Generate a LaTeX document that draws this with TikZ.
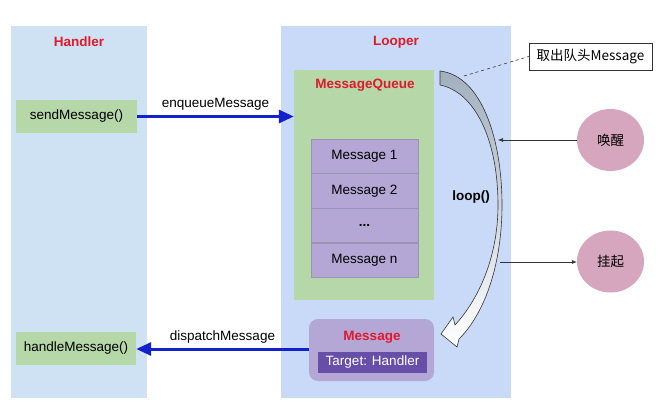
\documentclass[tikz,border=0pt]{standalone}
\usepackage{fontspec}
\setmainfont{Liberation Sans}
\newfontfamily\cjkfont{Noto Sans CJK SC}
\usetikzlibrary{arrows.meta,positioning,shapes.geometric}
\definecolor{handlerblue}{HTML}{CFE2F3}
\definecolor{looperblue}{HTML}{C9DAF8}
\definecolor{queuegreen}{HTML}{B6D7A8}
\definecolor{msgpurple}{HTML}{B4A7D6}
\definecolor{msgline}{HTML}{9C94B4}
\definecolor{targetpurple}{HTML}{674EA7}
\definecolor{statepink}{HTML}{D5A6BD}
\definecolor{titlered}{HTML}{E0192B}
\definecolor{callblue}{HTML}{1122CC}
\definecolor{loopgray}{HTML}{A2AFBE}
\definecolor{wireline}{HTML}{333333}
\newcommand\looptextstyle{\fontsize{13.5}{16}\selectfont}
\newcommand\looptitlestyle{\fontsize{13.5}{16}\selectfont\bfseries\color{titlered}}
\tikzset{
  panel/.style={inner sep=0, minimum width=#1, minimum height=372pt},
  funcbox/.style={fill=queuegreen, inner sep=0, minimum width=121pt, minimum height=33pt, font=\looptextstyle},
  msgrow/.style={fill=msgpurple, draw=msgline, inner sep=0, minimum width=107pt, minimum height=34.25pt, font=\looptextstyle},
  statenode/.style={ellipse, fill=statepink, inner sep=0, minimum width=67pt, minimum height=62pt, font=\looptextstyle\cjkfont},
  callarrow/.style={draw=callblue, line width=3pt, -{Triangle[length=15pt, width=13pt]}},
  wire/.style={draw=wireline, line width=0.6pt, -{Latex[length=5pt, width=4pt]}},
  looparrow/.style={draw=wireline, line width=0.6pt, top color=loopgray, bottom color=white}
}
\begin{document}
\begin{tikzpicture}[x=1pt, y=-1pt]
  \useasboundingbox[fill=white] (0,0) rectangle (659,412);
  \node[panel=136pt, fill=handlerblue] (handlerpanel) at (79,212) {};
  \node[panel=230pt, fill=looperblue] (looperpanel) at (396,212) {};
  \node[font=\looptitlestyle] (handlertitle) at (79,42) {Handler};
  \node[font=\looptitlestyle] (loopertitle) at (396,42) {Looper};
  \node[fill=queuegreen, inner sep=0, minimum width=140pt, minimum height=230pt] (queue) at (364,185) {};
  \node[font=\looptitlestyle] (queuetitle) at (365,85) {MessageQueue};
  \node[msgrow] (row1) at (364.5,156.1) {Message 1};
  \node[msgrow, below=0pt of row1] (row2) {Message 2};
  \node[msgrow, below=0pt of row2] (row3) {\textbf{...}};
  \node[msgrow, below=0pt of row3] (row4) {Message n};
  \node[funcbox] (send) at (76.5,116.5) {sendMessage()};
  \node[funcbox, minimum width=120pt] (handle) at (76,348.5) {handleMessage()};
  \node[fill=msgpurple, rounded corners=9pt, inner sep=0, minimum width=125pt, minimum height=62pt] (message) at (371.5,350) {};
  \node[font=\looptitlestyle] (messagetitle) at (372,337) {Message};
  \node[fill=targetpurple, text=white, inner sep=0, minimum width=109pt, minimum height=21pt, font=\looptextstyle] (target) at (372.5,362.5) {Target: Handler};
  \draw[callarrow] (send.east) -- node[above=1pt, font=\looptextstyle, text=black] (enqueue) {enqueueMessage} (send.east -| queue.west);
  \draw[callarrow] (message.west |- 0,349) -- node[above=1pt, font=\looptextstyle, text=black] (dispatch) {dispatchMessage} (handle.east |- 0,349);
  \path[looparrow] (440,71) .. controls (482,76) and (502,140) .. (502,205)
    .. controls (502,262) and (486,312) .. (459,339) -- (457,347) -- (441,334) -- (453,317) -- (455,325)
    .. controls (478,300) and (498,258) .. (498,205)
    .. controls (498,140) and (475,92) .. (440,85) -- cycle;
  \node[font=\looptextstyle\bfseries] (loop) at (471,197) {loop()};
  \coordinate (headpt) at (464,76);
  \coordinate (wakept) at (498,140);
  \coordinate (sleeppt) at (500,262);
  \node[draw=wireline, line width=0.6pt, inner sep=0, minimum width=123pt, minimum height=27pt, font=\looptextstyle\cjkfont] (takehead) at (590.5,56.5) {取出队头Message};
  \node[statenode] (wake) at (610.5,140) {唤醒};
  \node[statenode] (sleep) at (610.5,261.5) {挂起};
  \draw[draw=wireline, line width=0.6pt, dashed] (headpt) -- (takehead.west);
  \draw[wire] (wake.west) -- (wakept);
  \draw[wire] (sleeppt) -- (sleep.west |- sleeppt);
\end{tikzpicture}
\end{document}
